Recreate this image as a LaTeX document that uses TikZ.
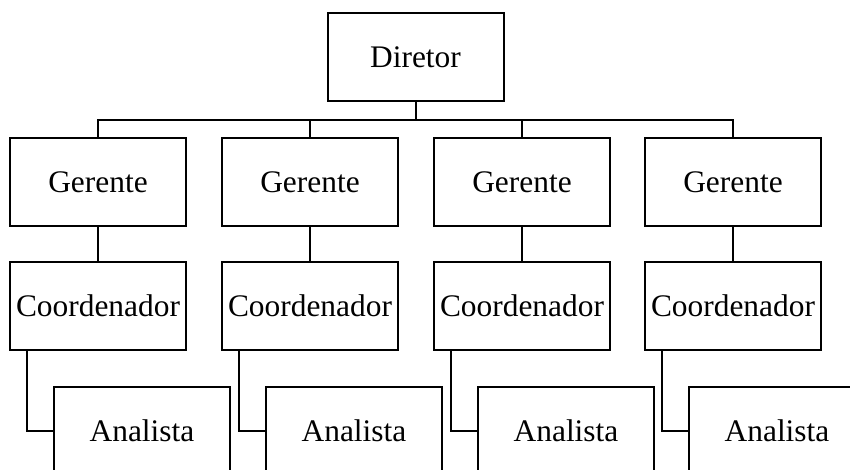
\documentclass[tikz,border=0pt]{standalone}
\usepackage{fontspec}
\setmainfont{Liberation Serif}
\usetikzlibrary{calc,positioning}

\tikzset{
    cargo/.style={draw, line width=1pt, minimum width=88pt, minimum height=44pt, inner sep=0pt, font=\fontsize{15.7}{18}\selectfont},
    liga/.style={line width=1pt}
}

\begin{document}
\begin{tikzpicture}[x=0.5pt,y=-0.5pt]
    \useasboundingbox (0,0) rectangle (850,470);
    \clip (0,0) rectangle (850,470);
    \node[cargo] (dir) at (415.5,57.5) {Diretor};
    \node[cargo] (ger1) at (98,182) {Gerente};
    \node[cargo] (ger2) at (310,182) {Gerente};
    \node[cargo] (ger3) at (522,182) {Gerente};
    \node[cargo] (ger4) at (733,182) {Gerente};
    \node[cargo] (coo1) at (98,305.5) {Coordenador};
    \node[cargo] (coo2) at (310,305.5) {Coordenador};
    \node[cargo] (coo3) at (522,305.5) {Coordenador};
    \node[cargo] (coo4) at (733,305.5) {Coordenador};
    \node[cargo] (ana1) at (142,430.5) {Analista};
    \node[cargo] (ana2) at (354,430.5) {Analista};
    \node[cargo] (ana3) at (566,430.5) {Analista};
    \node[cargo] (ana4) at (777,430.5) {Analista};
    \coordinate (bus) at (415.5,120);
    \draw[liga] (dir.south) -- (bus);
    \draw[liga] (ger1.north) |- (bus) -| (ger4.north);
    \draw[liga] (ger2.north) -- (ger2.north |- bus);
    \draw[liga] (ger3.north) -- (ger3.north |- bus);
    \draw[liga] (ger1) -- (coo1);
    \draw[liga] (ger2) -- (coo2);
    \draw[liga] (ger3) -- (coo3);
    \draw[liga] (ger4) -- (coo4);
    \draw[liga] ($(coo1.south west)+(18,0)$) |- (ana1.west);
    \draw[liga] ($(coo2.south west)+(18,0)$) |- (ana2.west);
    \draw[liga] ($(coo3.south west)+(18,0)$) |- (ana3.west);
    \draw[liga] ($(coo4.south west)+(18,0)$) |- (ana4.west);
\end{tikzpicture}
\end{document}
